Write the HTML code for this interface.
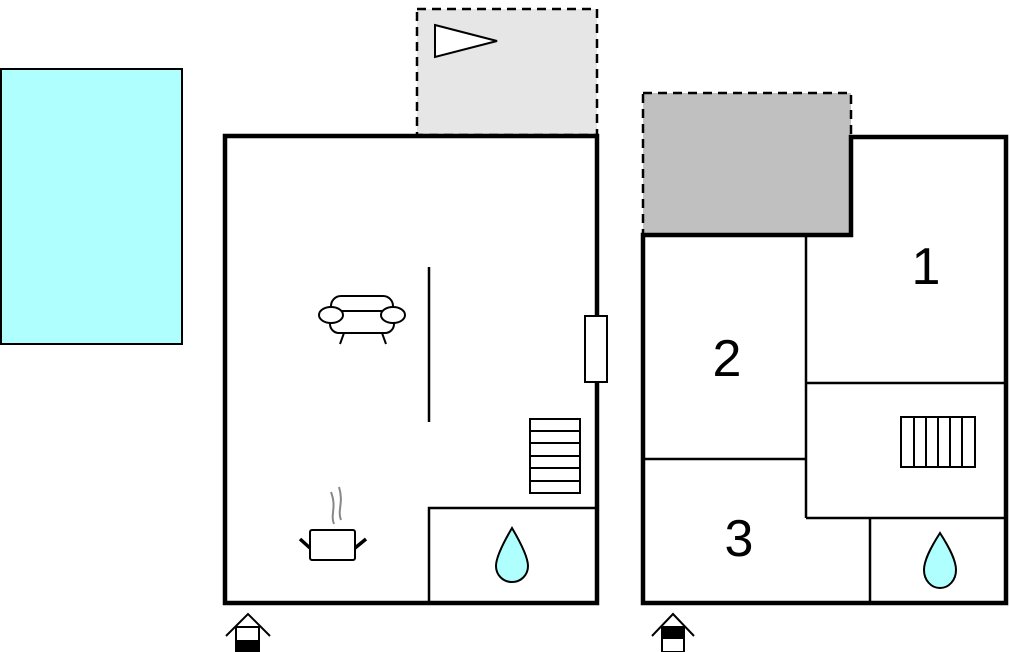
<!DOCTYPE html>
<html><head><meta charset="utf-8"><style>
html,body{margin:0;padding:0;background:#fff;width:1010px;height:652px;overflow:hidden}
svg{display:block}
text{font-family:"Liberation Sans",sans-serif}
</style></head><body>
<svg width="1010" height="652" viewBox="0 0 1010 652" xmlns="http://www.w3.org/2000/svg">
<!-- pool -->
<rect x="1" y="69" width="181" height="275" fill="#b0ffff" stroke="#000" stroke-width="2"/>
<!-- terrace -->
<rect x="417" y="9" width="180" height="126" fill="#e6e6e6" stroke="#000" stroke-width="2.5" stroke-dasharray="9,6"/>
<polygon points="435,25 497,41 435,57" fill="#fff" stroke="#000" stroke-width="2"/>
<!-- left building -->
<rect x="225" y="136" width="372" height="467" fill="#fff" stroke="#000" stroke-width="4.5"/>
<line x1="429" y1="267" x2="429" y2="422" stroke="#000" stroke-width="2.5"/>
<rect x="585" y="316" width="22" height="66" fill="#fff" stroke="#000" stroke-width="2"/>
<!-- stairs left -->
<g fill="#fff" stroke="#000" stroke-width="2">
<rect x="530" y="419" width="50" height="74"/>
<line x1="530" y1="431" x2="580" y2="431"/><line x1="530" y1="443" x2="580" y2="443"/>
<line x1="530" y1="456" x2="580" y2="456"/><line x1="530" y1="468" x2="580" y2="468"/>
<line x1="530" y1="481" x2="580" y2="481"/>
</g>
<polyline points="429,603 429,508 597,508" fill="none" stroke="#000" stroke-width="2.5"/>
<path d="M512,528 C502,545 496,558 496,566 C496,575 503,582 512,582 C521,582 528,575 528,566 C528,558 522,545 512,528 Z" fill="#b0ffff" stroke="#000" stroke-width="2"/>
<!-- couch -->
<g fill="#fff" stroke="#000" stroke-width="2">
<rect x="331" y="296" width="62" height="27" rx="10"/>
<rect x="330" y="311" width="64" height="22" rx="9"/>
<ellipse cx="331" cy="315" rx="12" ry="8"/>
<ellipse cx="393" cy="315" rx="12" ry="8"/>
<line x1="344" y1="333" x2="340" y2="344"/><line x1="382" y1="333" x2="386" y2="344"/>
</g>
<!-- pot -->
<g stroke="#888" stroke-width="2" fill="none">
<path d="M334,524 C330,514 337,508 331,492"/><path d="M341,520 C337,510 344,503 339,487"/>
</g>
<rect x="310" y="530" width="45" height="30" rx="2" fill="#fff" stroke="#000" stroke-width="2"/>
<line x1="300" y1="539" x2="310" y2="548" stroke="#000" stroke-width="3.5"/>
<line x1="366" y1="539" x2="355" y2="548" stroke="#000" stroke-width="3.5"/>
<!-- entrance left -->
<g stroke="#000" stroke-width="2">
<polyline points="226,636 248,614 270,636" fill="none"/>
<rect x="236" y="627" width="23" height="25" fill="#fff"/>
<rect x="236" y="641" width="23" height="11" fill="#000"/>
</g>
<!-- right building -->
<rect x="643" y="93" width="208" height="142" fill="#c0c0c0" stroke="#000" stroke-width="2.5" stroke-dasharray="9,6"/>
<path d="M643,235 L851,235 L851,137 L1006,137 L1006,603 L643,603 Z" fill="#fff" stroke="#000" stroke-width="4.5"/>
<g stroke="#000" stroke-width="2.5" fill="none">
<line x1="806" y1="235" x2="806" y2="518"/>
<line x1="806" y1="383" x2="1006" y2="383"/>
<line x1="643" y1="459" x2="806" y2="459"/>
<line x1="806" y1="518" x2="1006" y2="518"/>
<line x1="870" y1="518" x2="870" y2="603"/>
</g>
<g fill="#fff" stroke="#000" stroke-width="2">
<rect x="901" y="417" width="74" height="50"/>
<line x1="914" y1="417" x2="914" y2="467"/><line x1="926" y1="417" x2="926" y2="467"/>
<line x1="938" y1="417" x2="938" y2="467"/><line x1="950" y1="417" x2="950" y2="467"/>
<line x1="962" y1="417" x2="962" y2="467"/>
</g>
<path d="M940,533 C931,547 924,560 924,570 C924,580 931,588 940,588 C949,588 956,580 956,570 C956,560 949,547 940,533 Z" fill="#b0ffff" stroke="#000" stroke-width="2"/>
<text x="926" y="284" font-size="52" text-anchor="middle">1</text>
<text x="727" y="376" font-size="52" text-anchor="middle">2</text>
<text x="739" y="556" font-size="52" text-anchor="middle">3</text>
<!-- entrance right -->
<g stroke="#000" stroke-width="2">
<polyline points="652,636 673,614 694,636" fill="none"/>
<rect x="662" y="627" width="22" height="25" fill="#fff"/>
<rect x="662" y="627" width="22" height="11" fill="#000"/>
</g>
</svg>
</body></html>
